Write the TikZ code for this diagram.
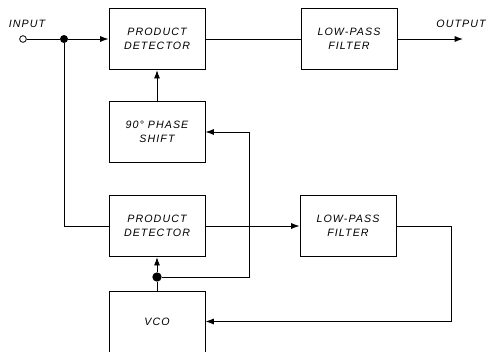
\documentclass[tikz,border=0pt]{standalone}
\usepackage{fontspec}
\setmainfont{Liberation Sans}[LetterSpace=10]
\usetikzlibrary{arrows.meta}

\begin{document}
\begin{tikzpicture}[x=0.75pt, y=-0.75pt, line width=0.7pt,
	every node/.style={font=\fontsize{8}{10.5}\selectfont\itshape},
	>={Latex[length=2.2mm, width=1.6mm]},
	blk/.style={draw, minimum width=72pt, minimum height=46pt, align=center, inner sep=0pt},
	dot/.style={circle, fill, inner sep=0pt, minimum size=6pt}]
	\useasboundingbox (0,0) rectangle (494,351);
	% boxes
	\node[blk] (pd1) at (157,39) {PRODUCT\\DETECTOR};
	\node[blk] (lpf1) at (349,39) {LOW-PASS\\FILTER};
	\node[blk] (ps) at (157,132) {90° PHASE\\SHIFT};
	\node[blk] (pd2) at (157,226) {PRODUCT\\DETECTOR};
	\node[blk] (lpf2) at (348,226) {LOW-PASS\\FILTER};
	\node[blk, anchor=north, minimum height=54pt] (vco) at (157,291) {};
	\node (vcolbl) at ([yshift=-23pt]vco.north) {VCO};
	% input / output
	\node[circle, draw, inner sep=0pt, minimum size=5pt, line width=0.6pt] (in) at (23,39) {};
	\node (inlbl) at (27,24) {INPUT};
	\node[dot] (j1) at (64,39) {};
	\coordinate (out) at (463,39);
	\node (outlbl) at (461,24) {OUTPUT};
	\node[dot, minimum size=7pt] (j2) at (157,277) {};
	% connectors
	\draw (in) -- (j1);
	\draw[->] (j1) -- (pd1.west);
	\draw (j1) |- (pd2.west);
	\draw (pd1.east) -- (lpf1.west);
	\draw[->] (lpf1.east) -- (out);
	\draw[->] (ps.north) -- (pd1.south);
	\draw[->] (pd2.east) -- (lpf2.west);
	\draw (vco.north) -- (j2);
	\draw[->] (j2) -- (pd2.south);
	\draw[->] (j2) -- ++(92,0) |- (ps.east);
	\draw[->] (lpf2.east) -- ++(55,0) |- ([yshift=4.5pt]vco.east);
\end{tikzpicture}
\end{document}
